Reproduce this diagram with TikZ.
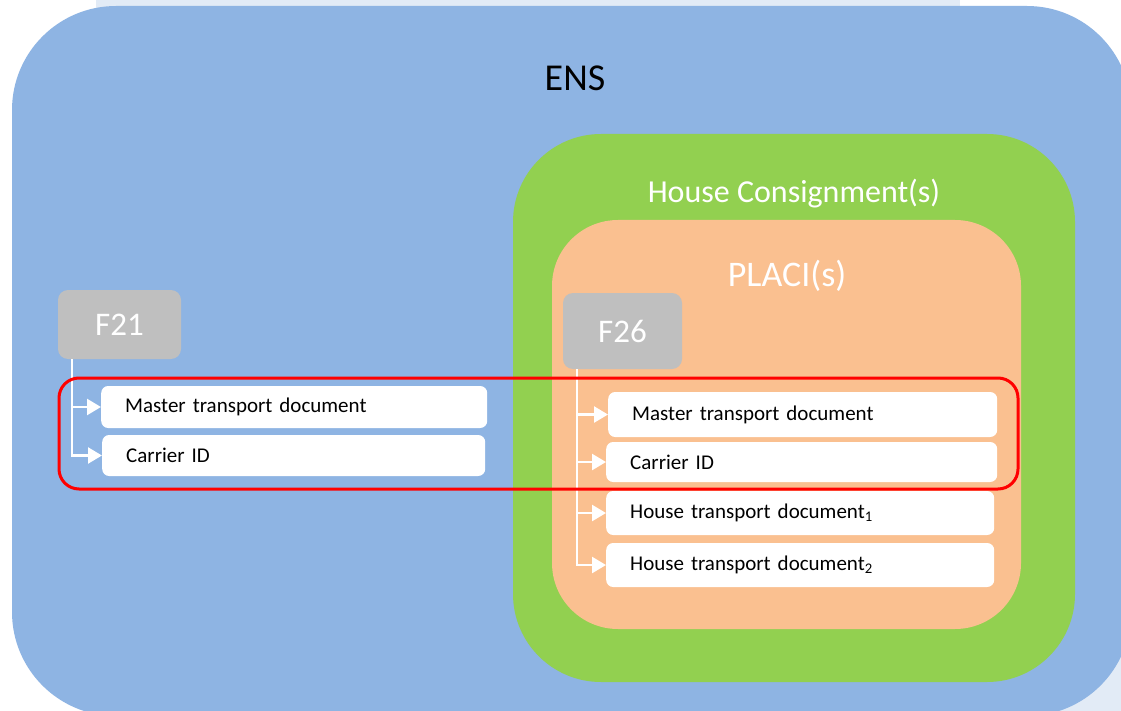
\documentclass[tikz,border=0pt]{standalone}
\usepackage{fontspec}
\setmainfont{Carlito}
\usetikzlibrary{arrows.meta, positioning}
\definecolor{ensblue}{HTML}{8EB4E3}
\definecolor{hcgreen}{HTML}{92D050}
\definecolor{placipeach}{HTML}{FAC090}
\definecolor{formgrey}{HTML}{BFBFBF}
\definecolor{slidebg}{HTML}{E2EBF6}

\begin{document}
\begin{tikzpicture}[x=1pt, y=-1pt,
    docbox/.style={fill=white, rounded corners=7pt, anchor=west, inner xsep=24pt,
        inner ysep=0pt, align=left, font=\fontsize{21}{25}\selectfont},
    formbox/.style={fill=formgrey, rounded corners=10pt, text=white,
        font=\fontsize{33}{38}\selectfont},
    branch/.style={draw=white, line width=2.5pt, -{Triangle[length=14pt, width=16pt]}}]

\useasboundingbox (0, 0) rectangle (1121, 711);
\begin{scope}
\clip (0, 0) rectangle (1121, 711);

% slide background
\fill[slidebg] (0, 0) rectangle (1121, 711);
\fill[white] (0, 0) rectangle (96, 711);
\fill[white] (960, 0) rectangle (1121, 150);

% nested containers
\fill[ensblue, rounded corners=104pt] (12, 6) rectangle (1131, 716);
\fill[hcgreen, rounded corners=88pt] (513, 134) rectangle (1075, 682);
\fill[placipeach, rounded corners=66pt] (552, 220) rectangle (1021, 629);
\end{scope}

% titles
\node[anchor=base, font=\fontsize{38}{44}\selectfont] (ens) at (575, 91) {ENS};
\node[anchor=base, text=white, font=\fontsize{32}{38}\selectfont] (hc) at (794, 203) {House Consignment(s)};
\node[anchor=base, text=white, font=\fontsize{36}{42}\selectfont] (placi) at (787, 287) {PLACI(s)};

% F21 message
\node[formbox, minimum width=123pt, minimum height=69pt] (f21) at (119.5, 324.5) {F21};
\node[docbox, text width=338pt, minimum height=42pt] (m21) at (101, 407) {Master transport document};
\node[docbox, text width=335pt, minimum height=41pt] (c21) at (102, 455.5) {Carrier ID};
\coordinate (t21) at (72, 359);
\draw[branch] (t21) |- (m21.west);
\draw[branch] (t21) |- (c21.west);

% F26 message
\node[formbox, minimum width=119pt, minimum height=76pt] (f26) at (622.5, 331) {F26};
\node[docbox, text width=341pt, minimum height=45pt] (m26) at (608, 414.5) {Master transport document};
\node[docbox, text width=343pt, minimum height=40pt] (c26) at (606, 462) {Carrier ID};
\node[docbox, text width=340pt, minimum height=44pt] (h1) at (606, 513) {House transport document\textsubscript{1}};
\node[docbox, text width=340pt, minimum height=44pt] (h2) at (606, 565) {House transport document\textsubscript{2}};
\coordinate (t26) at (577, 369);
\foreach \b in {m26, c26, h1, h2}
    \draw[branch] (t26) |- (\b.west);

% common data
\draw[red, line width=3pt, rounded corners=20pt] (59, 378) rectangle (1018, 489);
\end{tikzpicture}
\end{document}
